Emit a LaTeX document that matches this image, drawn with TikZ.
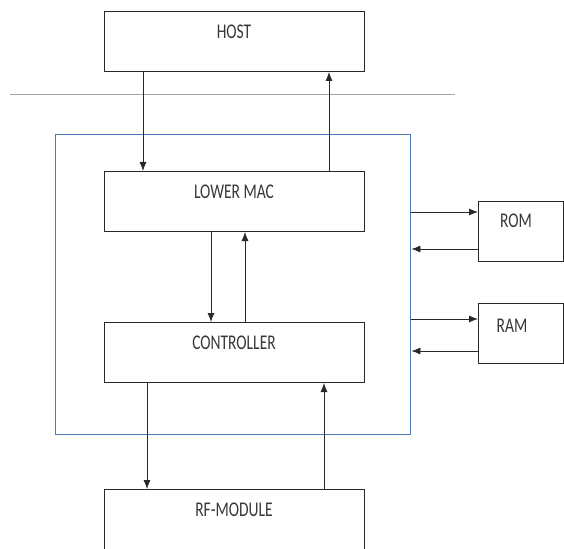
\documentclass[tikz,border=0pt]{standalone}
\usepackage{fontspec}
\setmainfont{Carlito}
\usetikzlibrary{arrows.meta}
\definecolor{boxblue}{RGB}{80,120,180}
\definecolor{ink}{RGB}{40,40,40}
\definecolor{txt}{RGB}{55,55,55}
\newcommand{\tallt}[1]{\scalebox{1}[1.35]{#1}}
\tikzset{
  blk/.style={draw=ink, line width=1pt, minimum width=260pt, minimum height=60pt, inner sep=0pt, anchor=north west},
  sblk/.style={draw=ink, line width=1pt, minimum width=85pt, minimum height=60pt, inner sep=0pt, anchor=north west},
  lbl/.style={text=txt, font=\fontsize{15.5}{18}\selectfont, inner sep=0pt},
  arr/.style={draw=ink, line width=0.8pt, -{Latex[length=9pt,width=7pt]}}
}
\begin{document}
\begin{tikzpicture}[x=1pt,y=-1pt]
\useasboundingbox (0,0) rectangle (564,548);
% blue enclosure
\node[draw=boxblue, line width=1.4pt, minimum width=355pt, minimum height=300pt, inner sep=0pt, anchor=north west] (chip) at (55,134) {};
% separator line
\coordinate (sepl) at (10,94);
\coordinate (sepr) at (455,94);
\draw[gray!70, line width=0.7pt] (sepl) -- (sepr);
% blocks
\node[blk] (host) at (104,11) {};
\node[lbl] (hostt) at (234,32) {\tallt{HOST}};
\node[blk] (mac) at (104,171) {};
\node[lbl] (mact) at (234,192) {\tallt{LOWER MAC}};
\node[blk] (ctrl) at (104,322) {};
\node[lbl] (ctrlt) at (234,343) {\tallt{CONTROLLER}};
\node[blk, minimum height=75pt] (rf) at (104,489) {};
\node[lbl] (rft) at (234,510) {\tallt{RF-MODULE}};
\node[sblk] (rom) at (478,201) {};
\node[lbl] (romt) at (516,221) {\tallt{ROM}};
\node[sblk] (ram) at (478,303) {};
\node[lbl] (ramt) at (512,326) {\tallt{RAM}};
% vertical arrows
\draw[arr] (host.south west -| 143,0) -- (mac.north west -| 143,0);
\draw[arr] (mac.north west -| 329,0) -- (host.south west -| 329,0);
\draw[arr] (mac.south west -| 211,0) -- (ctrl.north west -| 211,0);
\draw[arr] (ctrl.north west -| 245,0) -- (mac.south west -| 245,0);
\draw[arr] (ctrl.south west -| 147,0) -- (rf.north west -| 147,0);
\draw[arr] (rf.north west -| 324,0) -- (ctrl.south west -| 324,0);
% side arrows
\draw[arr] (chip.east |- 0,212) -- (rom.west |- 0,212);
\draw[arr] (rom.west |- 0,249) -- (chip.east |- 0,249);
\draw[arr] (chip.east |- 0,319) -- (ram.west |- 0,319);
\draw[arr] (ram.west |- 0,351) -- (chip.east |- 0,351);
\end{tikzpicture}
\end{document}
